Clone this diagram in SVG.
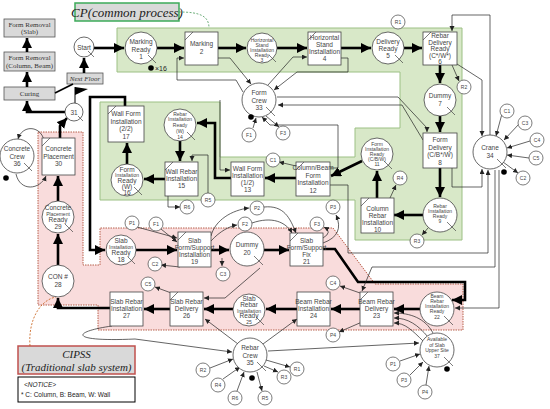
<svg xmlns="http://www.w3.org/2000/svg" width="550" height="409" viewBox="0 0 550 409">
<style>
.t{font-family:"Liberation Sans",Arial,sans-serif;font-size:6.5px;fill:#444;text-anchor:middle}
.s{font-family:"Liberation Sans",Arial,sans-serif;font-size:5px;fill:#444;text-anchor:middle}
.b{fill:#fff;stroke:#444;stroke-width:0.8}
.q{fill:#fff;stroke:#444;stroke-width:0.8}
.sm{fill:#fff;stroke:#444;stroke-width:0.7}
.sl{stroke:#444;stroke-width:0.7;fill:none}
.g{fill:#d9d9d9;stroke:#555;stroke-width:0.8}
.gt{font-family:"Liberation Serif","Times New Roman",serif;font-size:7px;fill:#333;text-anchor:middle}
.th{stroke:#000;stroke-width:2.6;fill:none;marker-end:url(#ah)}
.tn{stroke:#222;stroke-width:0.7;fill:none;marker-end:url(#as)}
.ln{stroke:#222;stroke-width:0.7;fill:none}
</style>
<defs>
<marker id="ah" markerUnits="userSpaceOnUse" markerWidth="12" markerHeight="12" refX="10" refY="5" orient="auto"><path d="M0,0 L10,5 L0,10 Z" fill="#000"/></marker>
<marker id="as" markerUnits="userSpaceOnUse" markerWidth="6" markerHeight="6" refX="5" refY="2.5" orient="auto"><path d="M0,0 L5,2.5 L0,5 Z" fill="#222"/></marker>
</defs>
<rect width="550" height="409" fill="#fff"/>
<!-- regions -->
<path d="M117,28 H462 V240 H355 V200 H100 V102 H220 V157 H355 V128 H400 V72 H117 Z" fill="#d8e8c8" stroke="#9cc084" stroke-width="1"/>
<path d="M38,132 H83 V265 H100 V228 H333 L375,284 H463 V330 H98 V305 H38 Z" fill="#f9dcdc" stroke="#b0503a" stroke-width="0.9" stroke-dasharray="1.5,1"/>
<!-- labels -->
<g id="cp-label"><rect x="75" y="3" width="104" height="18" fill="#d9d9d9" stroke="#3daa5a" stroke-width="1.5"/><text x="127" y="16.5" font-family="Liberation Serif,serif" font-style="italic" font-size="13" text-anchor="middle" fill="#222">CP(common process)</text></g>
<path d="M179,12 C200,12 209,16 209,28" fill="none" stroke="#4a9a5a" stroke-width="0.8" stroke-dasharray="2,1.5"/>
<g id="cipss-label"><rect x="18" y="346" width="117" height="28" fill="#d9d9d9" stroke="#c0504d" stroke-width="1.5"/><text x="76.5" y="358" font-family="Liberation Serif,serif" font-style="italic" font-size="11" text-anchor="middle" fill="#222">CIPSS</text><text x="76.5" y="371" font-family="Liberation Serif,serif" font-style="italic" font-size="11" text-anchor="middle" fill="#222">(Traditional slab system)</text></g>
<path d="M30,346 C28,320 40,300 56,297" fill="none" stroke="#c55a11" stroke-width="0.8" stroke-dasharray="2,1.5"/>
<g id="notice"><rect x="18" y="377" width="117" height="25" fill="#fff" stroke="#000" stroke-width="1"/><text x="24" y="387" font-family="Liberation Sans,sans-serif" font-style="italic" font-size="6.5" fill="#222">&lt;NOTICE&gt;</text><text x="21" y="397" font-family="Liberation Sans,sans-serif" font-size="6.5" fill="#222">* C: Column, B: Beam, W: Wall</text></g>
<!-- gray boxes -->
<g id="fr-slab"><rect class="g" x="4" y="19" width="51" height="18"/><text class="gt" x="29.5" y="26.5">Form Removal</text><text class="gt" x="29.5" y="34">(Slab)</text></g>
<g id="fr-cb"><rect class="g" x="4" y="52" width="51" height="19"/><text class="gt" x="29.5" y="60">Form Removal</text><text class="gt" x="29.5" y="67.5">(Column, Beam)</text></g>
<g id="curing"><rect class="g" x="4" y="87" width="51" height="13"/><text class="gt" x="29.5" y="96">Curing</text></g>
<g id="next-floor"><rect class="g" x="67" y="73" width="36" height="11"/><text class="gt" x="85" y="81" font-style="italic" font-size="6.5">Next Floor</text></g>
<!-- connectors -->
<g id="connectors">
<path class="th" d="M94,48 H124"/>
<path class="th" d="M157,48 H184"/>
<path class="th" d="M218,48 H246"/>
<path class="th" d="M277,48 H307"/>
<path class="th" d="M341,48 H371"/>
<path class="th" d="M404,48 H422"/>
<path class="th" d="M440,65 V83"/>
<path class="th" d="M440,116 V132"/>
<path class="th" d="M440,168 V197"/>
<path class="th" d="M423,215 H394"/>
<path class="th" d="M377,198 V171"/>
<path class="th" d="M362,161 L331,176"/>
<path class="th" d="M296,178 H265"/>
<path class="th" d="M231,178 H215 V123 H197"/>
<path class="th" d="M180,141 V161"/>
<path class="th" d="M165,179 H144"/>
<path class="th" d="M127,164 V143"/>
<path class="th" d="M125,106 V97 H90 V250 H105"/>
<path class="th" d="M136,250 H177"/>
<path class="th" d="M211,250 H229"/>
<path class="th" d="M264,250 H289"/>
<path class="th" d="M323,249 H335 L358,282 H465 V300 H452"/>
<path class="th" d="M420,309 H394"/>
<path class="th" d="M360,309 H331"/>
<path class="th" d="M297,309 H266"/>
<path class="th" d="M233,309 H204"/>
<path class="th" d="M170,309 H144"/>
<path class="th" d="M110,308 H58 V298"/>
<path class="th" d="M58,265 V234"/>
<path class="th" d="M58,201 V176"/>
<path class="th" d="M60,138 V126 L67,118"/>
<path class="th" d="M65,112 H27 V101"/>
<path class="th" d="M27,87 V72"/>
<path class="th" d="M27,52 V38"/>
<path d="M55,93 L73,84" stroke="#000" stroke-width="1.8" fill="none"/>
<path class="th" d="M84,73 V58"/>
<path d="M75,103 V87" stroke="#000" stroke-width="1" fill="none"/>
<path d="M75,87 L88,89 L75,95 Z" fill="#000"/>
<!-- thin -->
<path class="tn" d="M218,58 H230 L251,84"/>
<path class="tn" d="M243,92 L236,80 H177 V58 H184"/>
<path class="tn" d="M268,85 L293,57 H307"/>
<path class="tn" d="M341,58 H348 V72 H297 L274,90"/>
<path class="tn" d="M277,97 H398 L427,128 V132"/>
<path class="tn" d="M423,140 L402,105 H278"/>
<path class="tn" d="M457,64 L482,80 V136"/>
<path class="tn" d="M490,135 V15 H452 V31"/>
<path class="tn" d="M452,168 V187 H482 V169"/>
<path class="tn" d="M330,185 H348 V253 H488 V170"/>
<path class="tn" d="M503,110 L496,136"/>
<path class="tn" d="M519,124 L504,140"/>
<path class="tn" d="M530,141 L507,148"/>
<path class="tn" d="M529,158 L507,155"/>
<path class="tn" d="M503,162 L518,173"/>
<path class="tn" d="M329,168 H338 V125 H270 L262,117"/>
<path class="tn" d="M296,166 L279,162"/>
<path class="tn" d="M220,100 V170 H230"/>
<path class="tn" d="M253,128 L256,118"/>
<path class="tn" d="M266,116 L279,127"/>
<path class="tn" d="M208,193 V155 H192 V161"/>
<path class="tn" d="M168,196 V207 H180"/>
<path class="tn" d="M16,174 C20,192 40,190 46,176"/>
<path class="tn" d="M44,140 C40,125 22,125 18,139"/>
<path class="tn" d="M137,227 L177,238"/>
<path class="tn" d="M161,229 L177,242"/>
<path class="tn" d="M180,267 L161,265"/>
<path class="tn" d="M211,236 C215,220 232,210 249,208"/>
<path class="tn" d="M211,241 C220,231 230,226 237,225"/>
<path class="tn" d="M222,258 V266"/>
<path class="tn" d="M252,223 C272,216 286,222 292,233"/>
<path class="tn" d="M264,207 C284,205 290,218 296,233"/>
<path class="tn" d="M323,238 Q333,232 324,227"/>
<path class="tn" d="M323,243 Q345,235 336,215"/>
<path class="tn" d="M363,294 L340,286"/>
<path class="tn" d="M362,322 L339,332"/>
<path class="tn" d="M174,294 L155,287"/>
<path class="tn" d="M260,268 L225,298 H204"/>
<path class="tn" d="M238,344 L205,319"/>
<path class="tn" d="M263,344 L297,319"/>
<path class="tn" d="M112,326 C70,332 70,342 135,339 L232,352"/>
<path class="tn" d="M268,351 L419,343"/>
<path class="tn" d="M433,333 C425,318 410,313 394,313"/>
<path class="tn" d="M428,337 C418,325 408,318 394,318"/>
<path class="tn" d="M424,342 C412,330 405,323 394,323"/>
<path class="tn" d="M499,170 V308 H455"/>
<path class="tn" d="M495,170 V267 H372 L362,291"/>
<path class="tn" d="M210,368 L233,359"/>
<path class="tn" d="M223,379 L240,367"/>
<path class="tn" d="M237,391 L244,372"/>
<path class="tn" d="M257,372 L262,391"/>
<path class="tn" d="M264,366 L278,372"/>
<path class="tn" d="M266,360 L290,367"/>
<path class="tn" d="M400,361 L420,354"/>
<path class="tn" d="M410,375 L423,362"/>
<path class="tn" d="M426,385 L429,366"/>
<path class="tn" d="M452,65 L459,81"/>
<path class="tn" d="M428,228 L422,235"/>
<path class="tn" d="M390,198 L396,185"/>
</g>
<!-- nodes -->
<g id="start"><circle class="q" cx="84" cy="47" r="10"/><text class="t" x="84" y="49.5">Start</text><path class="sl" d="M88,51 L94,57"/></g>
<g id="n31"><circle class="q" cx="74" cy="112" r="9"/><text class="t" x="74" y="114.5">31</text><path class="sl" d="M78,116 L83,121"/></g>
<g id="n1"><circle class="q" cx="141" cy="48" r="16"/><text class="t" x="141" y="44" font-size="7.5">Marking</text><text class="t" x="141" y="51.5" font-size="7.5">Ready</text><text class="t" x="141" y="59" font-size="7.5">1</text><path class="sl" d="M148,55 L156,63"/><circle cx="151" cy="68" r="2.8" fill="#000"/><text x="155" y="70.5" font-family="Liberation Sans,sans-serif" font-size="7" fill="#222">×16</text></g>
<g id="n2"><rect class="b" x="185" y="32" width="33" height="33"/><path class="sl" d="M185,40 L193,32"/><text class="t" x="201.5" y="46">Marking</text><text class="t" x="201.5" y="54">2</text></g>
<g id="n3"><circle class="q" cx="262" cy="48" r="15"/><text class="s" x="262" y="42">Horizontal</text><text class="s" x="262" y="47">Stand</text><text class="s" x="262" y="52" fill="#c0508a">Installation</text><text class="s" x="262" y="57">Ready</text><text class="s" x="262" y="61.5">3</text><path class="sl" d="M269,55 L276,62"/></g>
<g id="n4"><rect class="b" x="308" y="32" width="33" height="33"/><path class="sl" d="M308,40 L316,32"/><text class="t" x="324.5" y="40">Horizontal</text><text class="t" x="324.5" y="47">Stand</text><text class="t" x="324.5" y="54">Installation</text><text class="t" x="324.5" y="61">4</text></g>
<g id="n5"><circle class="q" cx="388" cy="48" r="16"/><text class="t" x="388" y="44">Delivery</text><text class="t" x="388" y="51">Ready</text><text class="t" x="388" y="58">5</text><path class="sl" d="M395,55 L403,63"/></g>
<g id="r1a"><circle class="sm" cx="398" cy="22" r="7"/><text class="s" x="398" y="24">R1</text></g>
<g id="n6"><rect class="b" x="423" y="32" width="34" height="33"/><path class="sl" d="M423,40 L431,32"/><text class="t" x="440" y="38">Rebar</text><text class="t" x="440" y="44.5">Delivery</text><text class="t" x="440" y="51">Ready</text><text class="t" x="440" y="57.5">(C*/W*)</text><text class="t" x="440" y="63.5">6</text></g>
<g id="r2a"><circle class="sm" cx="464" cy="87" r="7"/><text class="s" x="464" y="89">R2</text></g>
<g id="n7"><circle class="q" cx="440" cy="100" r="16"/><text class="t" x="440" y="98">Dummy</text><text class="t" x="440" y="106">7</text><path class="sl" d="M447,107 L455,115"/></g>
<g id="n8"><rect class="b" x="423" y="133" width="34" height="35"/><text class="t" x="440" y="142">Form</text><text class="t" x="440" y="149.5">Delivery</text><text class="t" x="440" y="157">(C/B*/W)</text><text class="t" x="440" y="164.5">8</text></g>
<g id="n9"><circle class="q" cx="440" cy="215" r="17"/><text class="s" x="440" y="208">Rebar</text><text class="s" x="440" y="213">Installation</text><text class="s" x="440" y="218">Ready</text><text class="s" x="440" y="223">9</text><path class="sl" d="M447,222 L456,231"/></g>
<g id="r3a"><circle class="sm" cx="417" cy="241" r="7"/><text class="s" x="417" y="243">R3</text></g>
<g id="n10"><rect class="b" x="361" y="198" width="33" height="35"/><path class="sl" d="M361,206 L369,198"/><text class="t" x="377.5" y="211">Column</text><text class="t" x="377.5" y="218">Rebar</text><text class="t" x="377.5" y="225">Installation</text><text class="t" x="377.5" y="232">10</text></g>
<g id="n11"><circle class="q" cx="377" cy="154" r="16"/><text class="s" x="377" y="146">Form</text><text class="s" x="377" y="151">Installation</text><text class="s" x="377" y="156">Ready</text><text class="s" x="377" y="161">(C/B/W)</text><text class="s" x="377" y="166">11</text><path class="sl" d="M384,161 L392,169"/></g>
<g id="r4a"><circle class="sm" cx="400" cy="178" r="7"/><text class="s" x="400" y="180">R4</text></g>
<g id="n12"><rect class="b" x="296" y="162" width="34" height="34"/><path class="sl" d="M296,170 L304,162"/><text class="t" x="313" y="170" font-size="5.5">Column/Beam</text><text class="t" x="313" y="177.5">Form</text><text class="t" x="313" y="185">Installation</text><text class="t" x="313" y="192.5">12</text></g>
<g id="c1a"><circle class="sm" cx="273" cy="160" r="7"/><text class="s" x="273" y="162">C1</text></g>
<g id="n13"><rect class="b" x="231" y="162" width="33" height="34"/><text class="t" x="247.5" y="171">Wall Form</text><text class="t" x="247.5" y="178">Installation</text><text class="t" x="247.5" y="185">(1/2)</text><text class="t" x="247.5" y="192">13</text></g>
<g id="n14"><circle class="q" cx="180" cy="125" r="16"/><text class="s" x="180" y="116">Rebar</text><text class="s" x="180" y="121">Installation</text><text class="s" x="180" y="127">Ready</text><text class="s" x="180" y="133">(W)</text><text class="s" x="180" y="139">14</text><path class="sl" d="M187,132 L195,140"/></g>
<g id="n15"><rect class="b" x="165" y="162" width="33" height="34"/><path class="sl" d="M165,170 L173,162"/><text class="t" x="181.5" y="174">Wall Rebar</text><text class="t" x="181.5" y="181">Installation</text><text class="t" x="181.5" y="188">15</text></g>
<g id="r5a"><circle class="sm" cx="208" cy="200" r="7"/><text class="s" x="208" y="202">R5</text></g>
<g id="r6a"><circle class="sm" cx="187" cy="207" r="7"/><text class="s" x="187" y="209">R6</text></g>
<g id="n16"><circle class="q" cx="127" cy="180" r="16"/><text class="t" x="127" y="172">Form</text><text class="s" x="127" y="177">Installation</text><text class="t" x="127" y="183">Ready</text><text class="t" x="127" y="189">(W)</text><text class="t" x="127" y="195">16</text><path class="sl" d="M134,187 L142,195"/></g>
<g id="n17"><rect class="b" x="108" y="106" width="36" height="36"/><path class="sl" d="M108,114 L116,106"/><text class="t" x="126" y="116">Wall Form</text><text class="t" x="126" y="123.5">Installation</text><text class="t" x="126" y="131">(2/2)</text><text class="t" x="126" y="138.5">17</text></g>
<g id="n33"><circle class="q" cx="259" cy="100" r="17"/><text class="t" x="259" y="95">Form</text><text class="t" x="259" y="102.5">Crew</text><text class="t" x="259" y="110">33</text><path class="sl" d="M266,107 L275,116"/><circle cx="251" cy="117" r="2.8" fill="#000"/></g>
<g id="f1a"><circle class="sm" cx="249" cy="135" r="7"/><text class="s" x="249" y="137">F1</text></g>
<g id="f3a"><circle class="sm" cx="283" cy="133" r="7"/><text class="s" x="283" y="135">F3</text></g>
<g id="n34"><circle class="q" cx="490" cy="152" r="17"/><text class="t" x="490" y="150">Crane</text><text class="t" x="490" y="158">34</text><path class="sl" d="M497,159 L506,168"/><circle cx="504" cy="172" r="2.8" fill="#000"/></g>
<g id="c1b"><circle class="sm" cx="507" cy="111" r="7"/><text class="s" x="507" y="113">C1</text></g>
<g id="c3b"><circle class="sm" cx="525" cy="123" r="7"/><text class="s" x="525" y="125">C3</text></g>
<g id="c4b"><circle class="sm" cx="537" cy="140" r="7"/><text class="s" x="537" y="142">C4</text></g>
<g id="c5b"><circle class="sm" cx="536" cy="158" r="7"/><text class="s" x="536" y="160">C5</text></g>
<g id="c2b"><circle class="sm" cx="523" cy="178" r="7"/><text class="s" x="523" y="180">C2</text></g>
<g id="n36"><circle class="q" cx="17" cy="156" r="17"/><text class="t" x="17" y="151">Concrete</text><text class="t" x="17" y="158.5">Crew</text><text class="t" x="17" y="166">36</text><path class="sl" d="M24,163 L32,171"/><circle cx="6" cy="178" r="2.8" fill="#000"/></g>
<g id="n30"><rect class="b" x="42" y="138" width="33" height="37"/><path class="sl" d="M42,146 L50,138"/><text class="t" x="58.5" y="151">Concrete</text><text class="t" x="58.5" y="158.5">Placement</text><text class="t" x="58.5" y="166">30</text></g>
<g id="n29"><circle class="q" cx="58" cy="217" r="16"/><text class="t" x="58" y="210">Concrete</text><text class="s" x="58" y="215.5">Placement</text><text class="t" x="58" y="222">Ready</text><text class="t" x="58" y="228.5">29</text><path class="sl" d="M65,224 L73,232"/></g>
<g id="n28"><circle class="q" cx="58" cy="281" r="16"/><text class="t" x="58" y="279">CON #</text><text class="t" x="58" y="287">28</text></g>
<g id="n18"><circle class="q" cx="121" cy="250" r="15"/><text class="t" x="121" y="243">Slab</text><text class="s" x="121" y="248.5">Installation</text><text class="t" x="121" y="255">Ready</text><text class="t" x="121" y="261.5">18</text><path class="sl" d="M128,257 L135,264"/></g>
<g id="p1a"><circle class="sm" cx="132" cy="223" r="7"/><text class="s" x="132" y="225">P1</text></g>
<g id="f1b"><circle class="sm" cx="156" cy="224" r="7"/><text class="s" x="156" y="226">F1</text></g>
<g id="c2c"><circle class="sm" cx="155" cy="264" r="7"/><text class="s" x="155" y="266">C2</text></g>
<g id="n19"><rect class="b" x="178" y="232" width="33" height="35"/><path class="sl" d="M178,240 L186,232"/><text class="t" x="194.5" y="243">Slab</text><text class="t" x="194.5" y="250" font-size="6">Form/Support</text><text class="t" x="194.5" y="257">Installation</text><text class="t" x="194.5" y="264">19</text></g>
<g id="n20"><circle class="q" cx="247" cy="249" r="17"/><text class="t" x="247" y="247">Dummy</text><text class="t" x="247" y="255">20</text><path class="sl" d="M254,256 L263,265"/></g>
<g id="p2a"><circle class="sm" cx="257" cy="208" r="7"/><text class="s" x="257" y="210">P2</text></g>
<g id="f2a"><circle class="sm" cx="245" cy="224" r="7"/><text class="s" x="245" y="226">F2</text></g>
<g id="c3c"><circle class="sm" cx="223" cy="274" r="7"/><text class="s" x="223" y="276">C3</text></g>
<g id="n21"><rect class="b" x="290" y="233" width="33" height="33"/><path class="sl" d="M290,241 L298,233"/><text class="t" x="306.5" y="243">Slab</text><text class="t" x="306.5" y="250" font-size="6">Form/Support</text><text class="t" x="306.5" y="257">Fix</text><text class="t" x="306.5" y="264">21</text></g>
<g id="f3b"><circle class="sm" cx="317" cy="224" r="7"/><text class="s" x="317" y="226">F3</text></g>
<g id="p3a"><circle class="sm" cx="333" cy="207" r="7"/><text class="s" x="333" y="209">P3</text></g>
<g id="n22"><circle class="q" cx="437" cy="309" r="17"/><text class="s" x="437" y="298">Beam</text><text class="s" x="437" y="303">Rebar</text><text class="s" x="437" y="308">Installation</text><text class="s" x="437" y="313">Ready</text><text class="s" x="437" y="319">22</text><path class="sl" d="M444,316 L453,325"/></g>
<g id="n23"><rect class="b" x="360" y="292" width="33" height="34"/><path class="sl" d="M360,300 L368,292"/><text class="t" x="376.5" y="304">Beam Rebar</text><text class="t" x="376.5" y="311">Delivery</text><text class="t" x="376.5" y="318">23</text></g>
<g id="c4c"><circle class="sm" cx="333" cy="283" r="7"/><text class="s" x="333" y="285">C4</text></g>
<g id="p4a"><circle class="sm" cx="333" cy="335" r="7"/><text class="s" x="333" y="337">P4</text></g>
<g id="n24"><rect class="b" x="297" y="292" width="33" height="34"/><text class="t" x="313.5" y="304">Beam Rebar</text><text class="t" x="313.5" y="311">Installation</text><text class="t" x="313.5" y="318">24</text></g>
<g id="n25"><circle class="q" cx="249" cy="310" r="16"/><text class="t" x="249" y="301">Slab</text><text class="t" x="249" y="307">Rebar</text><text class="s" x="249" y="312.5">Installation</text><text class="t" x="249" y="318">Ready</text><text class="s" x="249" y="323.5">25</text><path class="sl" d="M256,317 L264,325"/></g>
<g id="n26"><rect class="b" x="170" y="292" width="33" height="34"/><path class="sl" d="M170,300 L178,292"/><text class="t" x="186.5" y="304">Slab Rebar</text><text class="t" x="186.5" y="311">Delivery</text><text class="t" x="186.5" y="318">26</text></g>
<g id="c5c"><circle class="sm" cx="148" cy="284" r="7"/><text class="s" x="148" y="286">C5</text></g>
<g id="n27"><rect class="b" x="110" y="292" width="33" height="34"/><text class="t" x="126.5" y="304">Slab Rebar</text><text class="t" x="126.5" y="311">Installation</text><text class="t" x="126.5" y="318">27</text></g>
<g id="n35"><circle class="q" cx="250" cy="355" r="17"/><text class="t" x="250" y="350">Rebar</text><text class="t" x="250" y="357.5">Crew</text><text class="t" x="250" y="365">35</text><path class="sl" d="M257,362 L266,371"/><circle cx="252" cy="378" r="2.8" fill="#000"/></g>
<g id="r2b"><circle class="sm" cx="203" cy="370" r="7"/><text class="s" x="203" y="372">R2</text></g>
<g id="r4b"><circle class="sm" cx="218" cy="385" r="7"/><text class="s" x="218" y="387">R4</text></g>
<g id="r6b"><circle class="sm" cx="235" cy="398" r="7"/><text class="s" x="235" y="400">R6</text></g>
<g id="r5b"><circle class="sm" cx="265" cy="398" r="7"/><text class="s" x="265" y="400">R5</text></g>
<g id="r3b"><circle class="sm" cx="284" cy="377" r="7"/><text class="s" x="284" y="379">R3</text></g>
<g id="r1b"><circle class="sm" cx="297" cy="369" r="7"/><text class="s" x="297" y="371">R1</text></g>
<g id="n37"><circle class="q" cx="437" cy="350" r="17"/><text class="s" x="437" y="341">Available</text><text class="s" x="437" y="346.5">of Slab</text><text class="s" x="437" y="352">Upper Site</text><text class="s" x="437" y="358">37</text><path class="sl" d="M444,357 L453,366"/><circle cx="447" cy="369" r="2.8" fill="#000"/></g>
<g id="p1b"><circle class="sm" cx="393" cy="364" r="7"/><text class="s" x="393" y="366">P1</text></g>
<g id="p3b"><circle class="sm" cx="404" cy="380" r="7"/><text class="s" x="404" y="382">P3</text></g>
<g id="p4b"><circle class="sm" cx="425" cy="392" r="7"/><text class="s" x="425" y="394">P4</text></g>
</svg>
